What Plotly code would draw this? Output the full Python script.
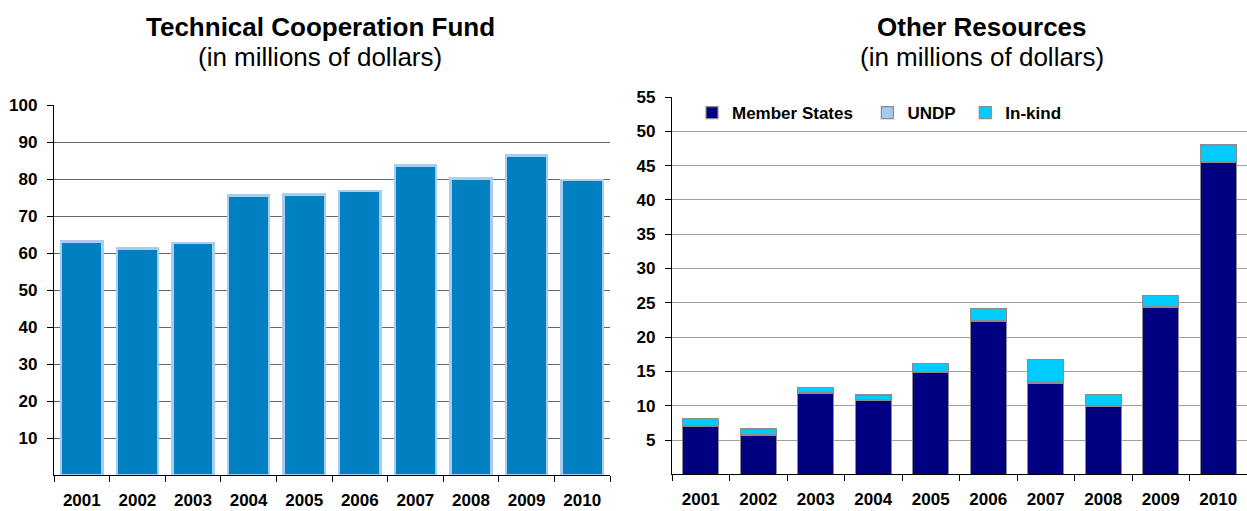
import plotly.graph_objects as go

years = ["2001", "2002", "2003", "2004", "2005", "2006", "2007", "2008", "2009", "2010"]
tcf_values = [63.1, 61.2, 62.7, 75.6, 75.8, 76.8, 83.6, 80.1, 86.3, 79.7]
member_states = [7.05, 5.65, 11.75, 10.8, 14.9, 22.35, 13.3, 9.85, 24.35, 45.5]
undp = [0.1, 0.1, 0.1, 0.05, 0.1, 0.05, 0.2, 0.1, 0.15, 0.1]
in_kind = [1.0, 0.85, 0.85, 0.7, 1.2, 1.8, 3.2, 1.65, 1.6, 2.4]
series_names = ["Member States", "UNDP", "In-kind"]
left_ticks = [10, 20, 30, 40, 50, 60, 70, 80, 90, 100]
right_ticks = [5, 10, 15, 20, 25, 30, 35, 40, 45, 50, 55]

W, H = 1247, 511
FONT = "Liberation Sans, Arial, sans-serif"

fig = go.Figure()

fig.add_trace(go.Bar(
    x=years, y=tcf_values, xaxis="x", yaxis="y", width=0.74,
    marker=dict(color="#0080c0", line=dict(color="#a9cdf0", width=2.5)),
    showlegend=False, hoverinfo="x+y",
))

# legend label padding (non-breaking spaces) to match the reference spacing
pads = ["\u00a0\u00a0", "\u00a0", ""]
for name, pad, vals, col in zip(series_names, pads,
                                [member_states, undp, in_kind],
                                ["#000080", "#a6caf0", "#00ccff"]):
    fig.add_trace(go.Bar(
        x=years, y=vals, name=name + pad, xaxis="x2", yaxis="y2", width=0.63,
        marker=dict(color=col, line=dict(color="#8c8c8c", width=1.2)),
    ))


def px(x):
    return x / W


def py(y):
    return (H - y) / H


TF = dict(family=FONT, size=17, color="#000000", weight="bold")

common_x = dict(type="category", showline=True, linecolor="#000000", linewidth=1.3,
                ticks="outside", tickson="boundaries", ticklen=6, tickcolor="#000000",
                showgrid=False, tickfont=TF, ticklabelstandoff=9, automargin=False)
common_y = dict(showline=True, linecolor="#000000", linewidth=1.3,
                ticks="outside", ticklen=6, tickcolor="#000000",
                showgrid=True, gridwidth=1, zeroline=False,
                tickfont=TF, ticklabelstandoff=6, automargin=False)

fig.update_layout(
    width=W, height=H,
    margin=dict(l=0, r=0, t=0, b=0, autoexpand=False),
    paper_bgcolor="white", plot_bgcolor="white",
    barmode="stack",
    font=dict(family=FONT, color="#000000"),
    xaxis=dict(domain=[px(54), px(610)], anchor="y", **common_x),
    yaxis=dict(domain=[py(475), py(105)], anchor="x", range=[0, 100],
               tickvals=left_ticks, gridcolor="#666666", **common_y),
    xaxis2=dict(domain=[px(672), px(1247)], anchor="y2", **common_x),
    yaxis2=dict(domain=[py(474.3), py(97)], anchor="x2", range=[0, 55],
                tickvals=right_ticks, gridcolor="#a0a0a0", **common_y),
    legend=dict(orientation="h", x=px(692), y=py(113), xanchor="left", yanchor="middle",
                bgcolor="rgba(0,0,0,0)", traceorder="normal",
                font=TF, itemwidth=30),
    annotations=[
        dict(text="<b>Technical Cooperation Fund</b>", x=px(320), y=py(27)),
        dict(text="(in millions of dollars)", x=px(320), y=py(57)),
        dict(text="<b>Other Resources</b>", x=px(982), y=py(27)),
        dict(text="(in millions of dollars)", x=px(982), y=py(57)),
    ],
)
fig.update_annotations(xref="paper", yref="paper", xanchor="center", yanchor="middle",
                       showarrow=False, font=dict(family=FONT, size=26, color="#000000"))

fig.write_html("out.html", config={"displayModeBar": False},
               post_script="document.body.style.margin='0';document.body.style.overflow='hidden';")
